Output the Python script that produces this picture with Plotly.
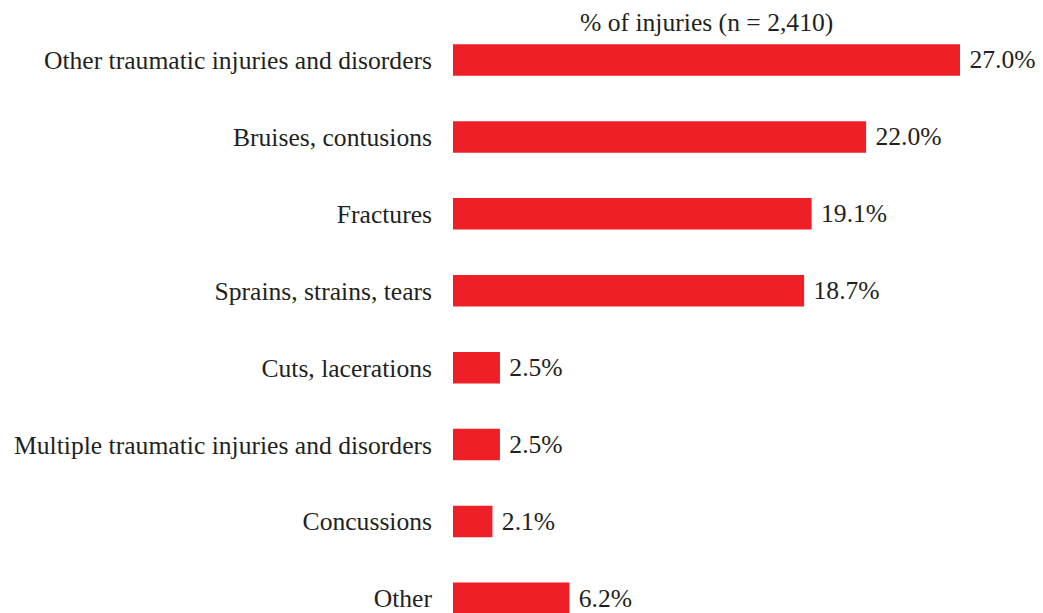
import plotly.graph_objects as go

# data
categories = [
    "Other traumatic injuries and disorders",
    "Bruises, contusions",
    "Fractures",
    "Sprains, strains, tears",
    "Cuts, lacerations",
    "Multiple traumatic injuries and disorders",
    "Concussions",
    "Other",
]
pct_injuries = [27.0, 22.0, 19.1, 18.7, 2.5, 2.5, 2.1, 6.2]
bar_labels = [f" {v:.1f}%" for v in pct_injuries]

TITLE = "% of injuries (n = 2,410)"

COLOR_BAR = "#EE1F26"
COLOR_TEXT = "#231F20"
FONT = "Liberation Serif, Times New Roman, serif"
FONT_SIZE = 25.6

fig = go.Figure()

fig.add_trace(
    go.Bar(
        x=pct_injuries,
        y=categories,
        orientation="h",
        marker=dict(color=COLOR_BAR, line=dict(width=0)),
        width=0.41,
        text=bar_labels,
        textposition="outside",
        textfont=dict(family=FONT, size=FONT_SIZE, color=COLOR_TEXT),
        cliponaxis=False,
        hoverinfo="skip",
    )
)

# page body has an 8px margin, so everything is pulled up/left by 8px
fig.update_layout(
    width=1043,
    height=613,
    margin=dict(l=445, r=91, t=32, b=8),
    plot_bgcolor="white",
    paper_bgcolor="white",
    showlegend=False,
    font=dict(family=FONT, size=FONT_SIZE, color=COLOR_TEXT),
    xaxis=dict(
        range=[0, 27],
        visible=False,
        showgrid=False,
        zeroline=False,
    ),
    yaxis=dict(
        categoryorder="array",
        categoryarray=categories,
        range=[7.19, -0.26],
        showgrid=False,
        zeroline=False,
        showline=False,
        ticks="",
        ticklabelstandoff=20,
        automargin=False,
        tickfont=dict(family=FONT, size=FONT_SIZE, color=COLOR_TEXT),
    ),
    annotations=[
        dict(
            text=TITLE,
            x=0.5,
            y=1 + 18 / 573,
            xref="paper",
            yref="paper",
            xanchor="center",
            yanchor="middle",
            showarrow=False,
            font=dict(family=FONT, size=FONT_SIZE, color=COLOR_TEXT),
        )
    ],
)

fig.write_html("out.html")
